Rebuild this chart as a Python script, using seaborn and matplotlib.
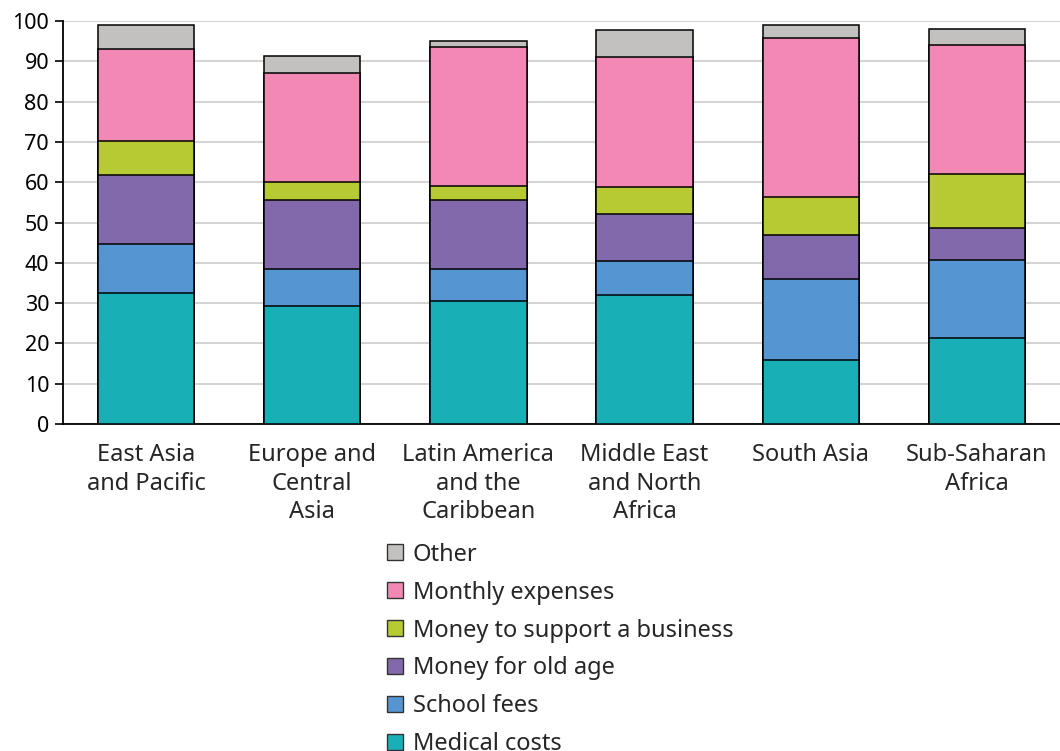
import numpy as np
import pandas as pd
import matplotlib
matplotlib.use('Agg')
import matplotlib.pyplot as plt
import matplotlib.patches as mpatches
import seaborn as sns

regions = ['East Asia\nand Pacific', 'Europe and\nCentral\nAsia', 'Latin America\nand the\nCaribbean',
           'Middle East\nand North\nAfrica', 'South Asia', 'Sub-Saharan\nAfrica']

medical = [32.4, 29.2, 30.6, 32.1, 16.0, 21.3]
school = [12.2, 9.3, 7.9, 8.3, 19.9, 19.3]
old_age = [17.2, 17.1, 17.1, 11.6, 11.1, 8.1]
business = [8.4, 4.4, 3.4, 6.8, 9.4, 13.4]
monthly = [22.9, 27.1, 34.5, 32.3, 39.5, 31.9]
other = [5.8, 4.2, 1.5, 6.6, 3.0, 3.9]

series = ['Medical costs', 'School fees', 'Money for old age', 'Money to support a business',
          'Monthly expenses', 'Other']
colors = ['#19afb7', '#5596d2', '#8169ab', '#b7c933', '#f289b4', '#c2c1bf']

df = pd.DataFrame({'Region': regions, 'Medical costs': medical, 'School fees': school,
                   'Money for old age': old_age, 'Money to support a business': business,
                   'Monthly expenses': monthly, 'Other': other})
cum = df[series].cumsum(axis=1)

sns.set_style('white')
plt.rcParams['font.family'] = ['Noto Sans', 'DejaVu Sans']

fig = plt.figure(figsize=(10.6, 7.51), dpi=100)
ax = fig.add_axes([0.0594, 0.4354, 0.9406, 0.5366])

# draw cumulative totals from the top layer down so lower layers cover them
for s, c in zip(series[::-1], colors[::-1]):
    sns.barplot(x=df['Region'], y=cum[s], color=c, saturation=1, width=0.58,
                edgecolor='black', linewidth=1.1, ax=ax, zorder=3)

ax.set_ylim(0, 100)
ax.set_xlim(-0.5, 5.5)
ax.set_yticks(range(0, 101, 10))
ax.yaxis.grid(True, color='#d4d4d4', linewidth=1.5, zorder=0)
ax.set_axisbelow(True)
ax.set_xlabel('')
ax.set_ylabel('')
for sp in ['top', 'right']:
    ax.spines[sp].set_visible(False)
ax.spines['left'].set_color('black')
ax.spines['bottom'].set_color('black')
ax.spines['left'].set_linewidth(1.3)
ax.spines['bottom'].set_linewidth(1.3)
ax.tick_params(axis='y', left=True, length=6, width=1.2, labelsize=15.5, pad=4, colors='black')
ax.tick_params(axis='x', bottom=False, labelsize=17, pad=10)
for t in ax.get_xticklabels():
    t.set_linespacing(1.27)

handles = [mpatches.Patch(facecolor=c, edgecolor='#333333', linewidth=1, label=s)
           for s, c in zip(series[::-1], colors[::-1])]
fig.legend(handles=handles, loc='upper left', bbox_to_anchor=(0.3565, 0.29), frameon=False,
           fontsize=17, handlelength=0.68, handleheight=0.68, handletextpad=0.4,
           labelspacing=0.59, borderaxespad=0)

plt.savefig('out.png', dpi=100)
